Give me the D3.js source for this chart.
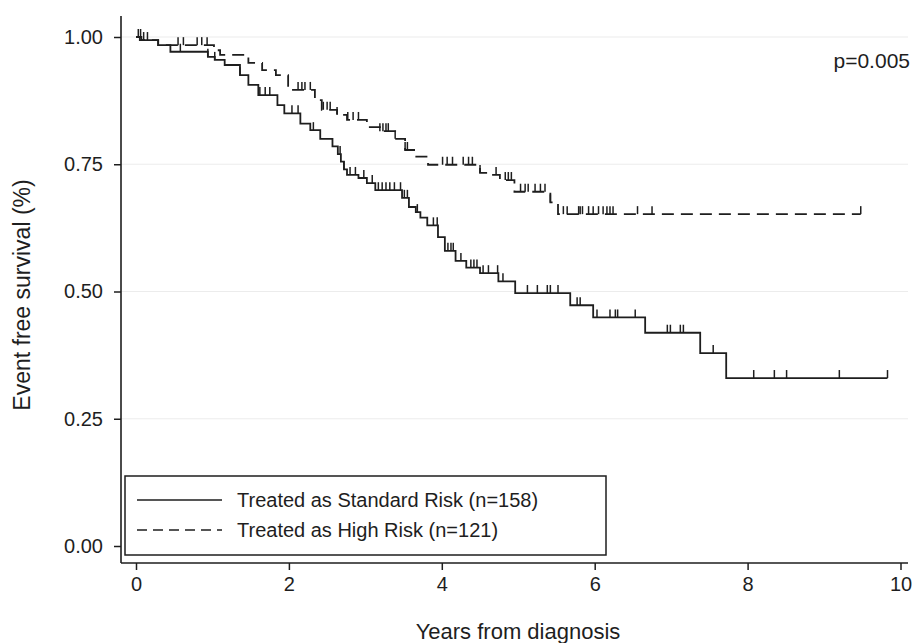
<!DOCTYPE html>
<html lang="en">
<head>
<meta charset="UTF-8">
<title>Event free survival</title>
<script src="https://d3js.org/d3.v7.min.js"></script>
<style>
    body, html { margin: 0; background: #fff; }
    svg { display: block; font-family: "Liberation Sans", Arial, sans-serif; }
</style>
</head>
<body>
<div id="chart"></div>
<script>
// Kaplan-Meier steps: time (years) -> survival after that time
var stdTimes = [0, 0.05, 0.29, 0.45, 0.94, 1.03, 1.16, 1.36, 1.47, 1.60, 1.85, 1.94, 2.15, 2.28, 2.41, 2.57, 2.64, 2.68, 2.72, 2.76, 2.91, 3.02, 3.13, 3.48, 3.57, 3.66, 3.72, 3.81, 3.95, 4.04, 4.18, 4.32, 4.50, 4.74, 4.96, 5.68, 5.98, 6.66, 7.38, 7.72];
var stdSurv  = [1.0, 0.994, 0.984, 0.971, 0.961, 0.955, 0.945, 0.925, 0.906, 0.886, 0.866, 0.85, 0.83, 0.817, 0.80, 0.785, 0.77, 0.755, 0.74, 0.729, 0.723, 0.713, 0.699, 0.684, 0.666, 0.656, 0.645, 0.63, 0.607, 0.58, 0.56, 0.547, 0.536, 0.52, 0.497, 0.473, 0.449, 0.419, 0.379, 0.33];
var stdEnd = 9.83;
var stdCensor = [0.03, 0.58, 0.94, 1.03, 1.36, 1.62, 1.69, 1.75, 2.04, 2.12, 2.32, 2.67, 2.72, 2.80, 2.87, 2.98, 3.09, 3.17, 3.22, 3.27, 3.32, 3.38, 3.46, 3.51, 3.55, 3.68, 3.89, 3.94, 4.08, 4.12, 4.15, 4.25, 4.38, 4.42, 4.46, 4.54, 4.61, 4.73, 4.80, 5.12, 5.25, 5.38, 5.42, 5.52, 5.77, 5.81, 6.03, 6.20, 6.27, 6.30, 6.53, 6.95, 6.99, 7.12, 7.16, 7.55, 8.08, 8.35, 8.51, 9.20, 9.83];

var highTimes = [0, 0.07, 0.29, 1.02, 1.10, 1.47, 1.65, 1.83, 1.99, 2.34, 2.43, 2.63, 2.76, 3.02, 3.19, 3.39, 3.52, 3.65, 3.82, 4.50, 4.67, 4.76, 4.95, 5.42, 5.52];
var highSurv  = [1.0, 0.994, 0.984, 0.974, 0.965, 0.949, 0.935, 0.925, 0.896, 0.876, 0.857, 0.847, 0.837, 0.823, 0.815, 0.80, 0.778, 0.765, 0.749, 0.733, 0.729, 0.719, 0.696, 0.675, 0.652];
var highEnd = 9.48;
var highCensor = [0.06, 0.10, 0.15, 0.55, 0.62, 0.80, 0.86, 0.93, 2.12, 2.17, 2.21, 2.28, 2.45, 2.50, 2.54, 2.63, 2.77, 2.84, 2.91, 3.19, 3.23, 3.27, 3.30, 3.39, 3.52, 3.55, 4.01, 4.07, 4.14, 4.28, 4.35, 4.40, 4.50, 4.71, 4.83, 4.87, 4.91, 5.03, 5.09, 5.13, 5.22, 5.29, 5.35, 5.42, 5.59, 5.64, 5.79, 5.81, 5.84, 5.92, 5.98, 6.05, 6.11, 6.16, 6.20, 6.24, 6.56, 6.75, 9.48];

var xTicks = [0, 2, 4, 6, 8, 10];
var yTicks = [0, 0.25, 0.5, 0.75, 1];
var legendLabels = ["Treated as Standard Risk (n=158)", "Treated as High Risk (n=121)"];
var pText = "p=0.005";

var width = 914, height = 643;
var svg = d3.select("#chart").append("svg").attr("width", width).attr("height", height);

var x = d3.scaleLinear().domain([0, 10]).range([136, 900.5]);
var y = d3.scaleLinear().domain([0, 1]).range([546, 37]);
var axisX = 121, axisY = 563;
var ink = "#1e1e1e";

// light gridlines
svg.append("g").selectAll("line").data(yTicks.filter(d => d > 0)).enter().append("line")
    .attr("x1", axisX).attr("x2", 908)
    .attr("y1", d => y(d)).attr("y2", d => y(d))
    .attr("stroke", "#ececec").attr("stroke-width", 1.2);

// axes
var gy = svg.append("g").attr("transform", "translate(" + axisX + ",0)")
    .call(d3.axisLeft(y).tickValues(yTicks).tickFormat(d3.format(".2f")).tickSize(7).tickPadding(11));
var gx = svg.append("g").attr("transform", "translate(0," + axisY + ")")
    .call(d3.axisBottom(x).tickValues(xTicks).tickSize(7).tickPadding(7));
[gx, gy].forEach(function (g) {
    g.select(".domain").remove();
    g.selectAll(".tick line").attr("stroke", ink).attr("stroke-width", 1.5);
    g.selectAll(".tick text").attr("fill", ink).style("font-size", "20px");
});
svg.append("line").attr("x1", axisX).attr("x2", axisX).attr("y1", 16).attr("y2", axisY)
    .attr("stroke", ink).attr("stroke-width", 1.6);
svg.append("line").attr("x1", axisX).attr("x2", 908).attr("y1", axisY).attr("y2", axisY)
    .attr("stroke", ink).attr("stroke-width", 1.6);

// axis titles
svg.append("text").attr("x", 518).attr("y", 639).attr("text-anchor", "middle")
    .attr("fill", ink).style("font-size", "22px").text("Years from diagnosis");
svg.append("text").attr("transform", "translate(30,295) rotate(-90)").attr("text-anchor", "middle")
    .attr("fill", ink).style("font-size", "23px").text("Event free survival (%)");
svg.append("text").attr("x", 910).attr("y", 68).attr("text-anchor", "end")
    .attr("fill", ink).style("font-size", "21px").text(pText);

function survAt(times, surv, t) {
    var i = d3.bisectRight(times, t) - 1;
    return surv[Math.max(0, i)];
}

function drawCurve(times, surv, end, censor, dash) {
    var pts = times.map((t, i) => [t, surv[i]]);
    pts.push([end, surv[surv.length - 1]]);
    var line = d3.line().x(d => x(d[0])).y(d => y(d[1])).curve(d3.curveStepAfter);
    svg.append("path").datum(pts).attr("d", line)
        .attr("fill", "none").attr("stroke", ink).attr("stroke-width", 1.8)
        .attr("stroke-dasharray", dash);
    svg.append("g").selectAll("line").data(censor).enter().append("line")
        .attr("x1", d => x(d)).attr("x2", d => x(d))
        .attr("y1", d => y(survAt(times, surv, d)))
        .attr("y2", d => y(survAt(times, surv, d)) - 8)
        .attr("stroke", ink).attr("stroke-width", 1.5);
}

drawCurve(highTimes, highSurv, highEnd, highCensor, "12,7");
drawCurve(stdTimes, stdSurv, stdEnd, stdCensor, null);

// legend
var lg = svg.append("g");
lg.append("rect").attr("x", 125).attr("y", 476).attr("width", 481).attr("height", 79)
    .attr("fill", "#fff").attr("stroke", ink).attr("stroke-width", 1.5);
legendLabels.forEach(function (lab, i) {
    var ly = 500 + i * 30;
    lg.append("line").attr("x1", 137).attr("x2", 222).attr("y1", ly).attr("y2", ly)
        .attr("stroke", ink).attr("stroke-width", 1.5)
        .attr("stroke-dasharray", i === 1 ? "10,6" : null);
    lg.append("text").attr("x", 237).attr("y", ly + 7).attr("fill", ink)
        .style("font-size", "20px").text(lab);
});
</script>
</body>
</html>
